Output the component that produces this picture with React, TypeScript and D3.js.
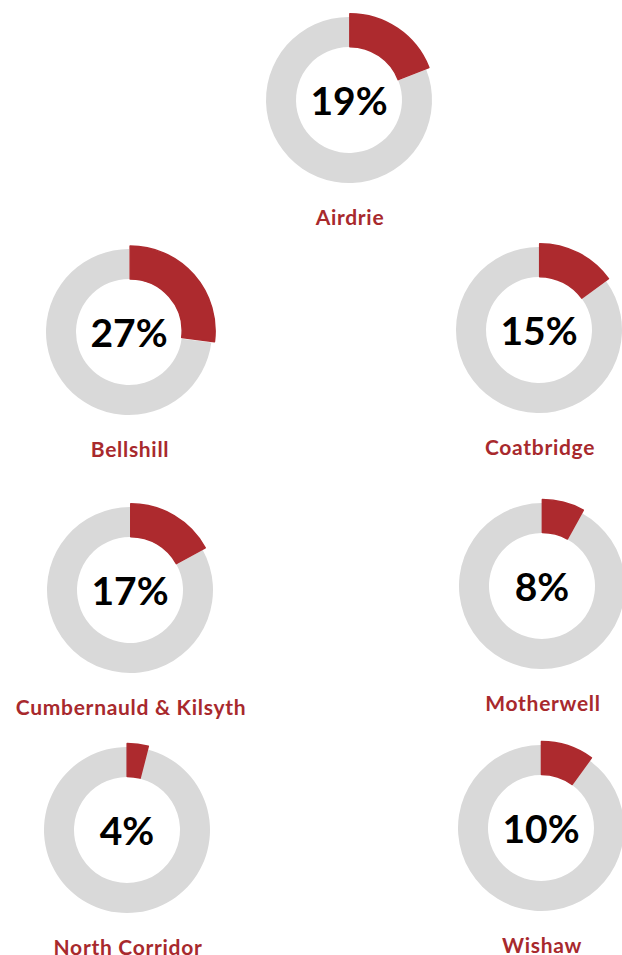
import React from "react";
import * as d3 from "d3";

// area names and their share (percent)
const areas = [
  "Airdrie",
  "Bellshill",
  "Coatbridge",
  "Cumbernauld & Kilsyth",
  "Motherwell",
  "North Corridor",
  "Wishaw",
];
const shares = [19, 27, 15, 17, 8, 4, 10];

// where each donut sits on the page
const centers: [number, number][] = [
  [349, 100],
  [129, 332],
  [539, 330],
  [130, 590],
  [542, 586],
  [127, 830],
  [541, 828],
];

const RED = "#ad2a2e";
const GREY = "#d9d9d9";

const Donut = ({ name, value, cx, cy }: { name: string; value: number; cx: number; cy: number }) => {
  const pie = d3.pie<number>().sort(null).value((d) => d);
  const slices = pie([value, 100 - value]);
  const greyArc = d3.arc<d3.PieArcDatum<number>>().innerRadius(53).outerRadius(83);
  const redArc = d3.arc<d3.PieArcDatum<number>>().innerRadius(52).outerRadius(85);

  const red = slices[0];
  const mid = (red.startAngle + red.endAngle) / 2;
  const off = 1.5;
  const dx = Math.sin(mid) * off;
  const dy = -Math.cos(mid) * off;

  return (
    <g transform={`translate(${cx},${cy})`}>
      <path d={greyArc(slices[1]) || ""} fill={GREY} />
      <path
        d={redArc(red) || ""}
        fill={RED}
        stroke={RED}
        strokeWidth={1.5}
        strokeLinejoin="round"
        transform={`translate(${dx},${dy})`}
      />
      <text
        x={0}
        y={15}
        textAnchor="middle"
        fontFamily="Lato, 'Open Sans', sans-serif"
        fontWeight="bold"
        fontSize={39}
        fill="#000"
      >
        {value}%
      </text>
      <text
        x={1}
        y={125}
        textAnchor="middle"
        fontFamily="Lato, 'Open Sans', sans-serif"
        fontWeight="bold"
        fontSize={21}
        letterSpacing={0.7}
        fill="#a8292d"
      >
        {name}
      </text>
    </g>
  );
};

const App = () => {
  return (
    <div style={{ position: "absolute", left: 0, top: 0 }}>
      <svg width={622} height={955} style={{ display: "block" }}>
        <rect width={622} height={955} fill="#fff" />
        {areas.map((a, i) => (
          <Donut key={a} name={a} value={shares[i]} cx={centers[i][0]} cy={centers[i][1]} />
        ))}
      </svg>
    </div>
  );
};

export default App;
